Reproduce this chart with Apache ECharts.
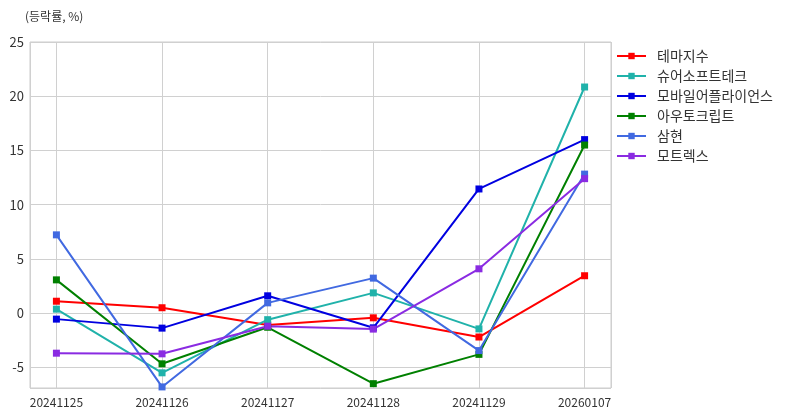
<!DOCTYPE html>
<html><head><meta charset="utf-8">
<script src="https://cdn.jsdelivr.net/npm/echarts@6/dist/echarts.min.js"></script>
<style>html,body{margin:0;padding:0;background:#fff}#c{width:795px;height:416px}</style>
</head><body><div id="c"></div>
<script>
const categories = ['20241125','20241126','20241127','20241128','20241129','20260107'];
const names = ['테마지수','슈어소프트테크','모바일어플라이언스','아우토크립트','삼현','모트렉스'];
const theme = [1.1, 0.5, -1.1, -0.43, -2.2, 3.45];
const sure = [0.37, -5.5, -0.6, 1.87, -1.45, 20.85];
const mobile = [-0.55, -1.38, 1.6, -1.35, 11.45, 16.0];
const autocrypt = [3.07, -4.67, -1.3, -6.5, -3.8, 15.5];
const samhyun = [7.22, -6.8, 0.95, 3.23, -3.45, 12.82];
const motrex = [-3.69, -3.75, -1.2, -1.47, 4.09, 12.4];
const yTicks = [-5, 0, 5, 10, 15, 20, 25];

const seriesValues = [theme, sure, mobile, autocrypt, samhyun, motrex];
const colors = ['#ff0000','#20b2aa','#0000e0','#008000','#4169e1','#8a2be2'];
const font = '"Noto Sans CJK KR", "Noto Sans", sans-serif';

const chart = echarts.init(document.getElementById('c'));
chart.setOption({
  animation: false,
  color: colors,
  textStyle: {fontFamily: font},
  title: {text: '(등락률, %)', left: 20, top: 5, textStyle: {fontSize: 12, fontWeight: 'normal', color: '#333', fontFamily: font}},
  legend: {
    orient: 'vertical', left: 611, top: 44, itemWidth: 29, itemHeight: 8, itemGap: 6,
    textStyle: {fontSize: 14, color: '#333', fontFamily: font, padding: [0, 0, 0, 6]},
    data: names
  },
  grid: {left: 30, right: 184, top: 42, bottom: 28, show: true, borderColor: '#ccc', borderWidth: 1},
  xAxis: {
    type: 'value', min: -0.25, max: 5.25,
    axisLine: {show: false}, axisTick: {show: false},
    splitLine: {show: true, lineStyle: {color: '#d0d0d0'}},
    axisLabel: {showMinLabel: false, showMaxLabel: false, color: '#333', fontSize: 12, margin: 8,
      formatter: v => (Number.isInteger(v) && categories[v]) ? categories[v] : ''}
  },
  yAxis: {
    type: 'value', min: -6.9, max: 25,
    axisLine: {show: false}, axisTick: {show: false},
    splitLine: {show: true, lineStyle: {color: '#d0d0d0'}},
    axisLabel: {showMinLabel: false, color: '#333', fontSize: 13, margin: 6,
      formatter: v => yTicks.includes(v) ? String(v) : ''}
  },
  series: names.map((n, i) => ({
    name: n, type: 'line', data: seriesValues[i].map((v, j) => [j, v]),
    symbol: 'rect', symbolSize: 7, showAllSymbol: true,
    lineStyle: {width: 2, color: colors[i]}, itemStyle: {color: colors[i]}
  }))
});
</script></body></html>
